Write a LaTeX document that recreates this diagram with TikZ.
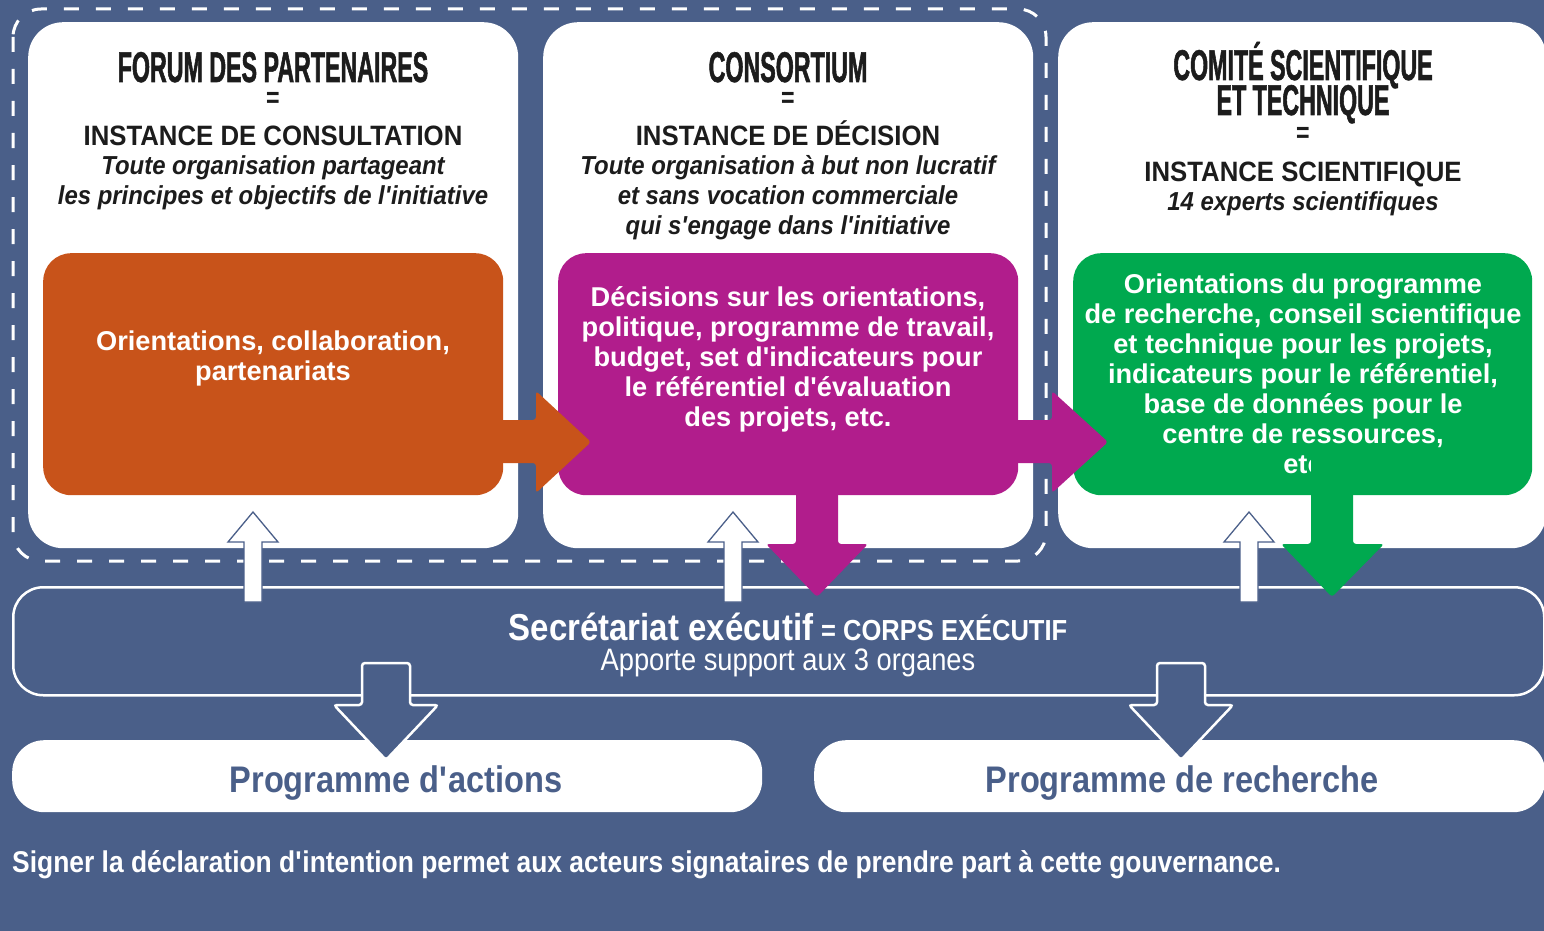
\documentclass[tikz,border=0pt]{standalone}
\usepackage{fontspec}
\setmainfont{Liberation Sans}
\newfontfamily\ftitle{Liberation Sans}[FakeStretch=0.54, FakeBold=1.2]
\newfontfamily\feq{Liberation Sans}[FakeStretch=0.8]
\newfontfamily\finst{Liberation Sans}[FakeStretch=0.92]
\newfontfamily\fnarrow{Liberation Sans}[FakeStretch=0.88]
\newcommand\ap{\textquotesingle}
\definecolor{bgblue}{HTML}{4A5F89}
\definecolor{orangeC}{HTML}{C8531A}
\definecolor{magC}{HTML}{B11D8C}
\definecolor{greenC}{HTML}{00A94F}
\definecolor{inkC}{HTML}{1C1C1C}
\begin{document}
\begin{tikzpicture}[x=1pt,y=-1pt,
  panel/.style={fill=white, rounded corners=35pt, inner sep=0pt, anchor=north west, minimum width=490pt, minimum height=526pt},
  colbox/.style={rounded corners=28pt, inner sep=0pt, anchor=north west, minimum width=460pt, minimum height=242pt},
  ttl/.style={font=\ftitle\bfseries\fontsize{43}{43}\selectfont, text=inkC, inner sep=0pt, anchor=base},
  eqs/.style={font=\feq\bfseries\fontsize{29}{29}\selectfont, text=inkC, inner sep=0pt},
  inst/.style={font=\finst\bfseries\fontsize{28}{28}\selectfont, text=inkC, inner sep=0pt, anchor=base},
  desc/.style={font=\finst\bfseries\itshape\fontsize{26}{30}\selectfont, text=inkC, inner sep=0pt, anchor=base},
  boxtxt/.style={font=\bfseries\fontsize{27.2}{30}\selectfont, text=white, align=center, inner sep=0pt},
  outbox/.style={draw=white, line width=2.5pt, rounded corners=30pt},
  progbox/.style={fill=white, rounded corners=32pt, inner sep=0pt, anchor=north west, minimum height=72pt},
  progtxt/.style={font=\fnarrow\bfseries\fontsize{37}{37}\selectfont, text=bgblue, inner sep=0pt, anchor=base},
  uparr/.style={fill=white, draw=bgblue, line width=1.3pt},
  downarr/.style={fill=bgblue, draw=white, line width=2.5pt, rounded corners=3pt}
]
\useasboundingbox (0,0) rectangle (1544,931);
\fill[bgblue] (0,0) rectangle (1544,931);

% secretariat and programme boxes
\node[outbox, anchor=north west, minimum width=1531pt, minimum height=108pt, inner sep=0pt] (sec) at (12,586) {};
\node[progbox, minimum width=750pt] (pa) at (12,740) {};
\node[progbox, minimum width=731pt] (pr) at (814,740) {};

% dashed frame
\draw[white, line width=3pt, dash pattern=on 15pt off 17pt, rounded corners=28pt] (13,9) rectangle (1046,561);

% panels
\node[panel] (p1) at (28,22) {};
\node[panel] (p2) at (543,22) {};
\node[panel, minimum width=488pt] (p3) at (1058,22) {};

% coloured boxes
\node[colbox, fill=orangeC] (ob) at (43,253) {};
\node[colbox, fill=magC] (mb) at (558,253) {};
\node[colbox, fill=greenC, minimum width=459pt] (gb) at (1073,253) {};

% panel 1 texts
\node[ttl] (t1) at (273,82) {FORUM DES PARTENAIRES};
\node[eqs] (e1) at (273,100) {=};
\node[inst] (i1) at (273,146) {INSTANCE DE CONSULTATION};
\node[desc] (d1a) at (273,174) {Toute organisation partageant};
\node[desc] (d1b) at (273,204) {les principes et objectifs de l\ap initiative};

% panel 2 texts
\node[ttl] (t2) at (788,82) {CONSORTIUM};
\node[eqs] (e2) at (788,100) {=};
\node[inst] (i2) at (788,146) {INSTANCE DE DÉCISION};
\node[desc] (d2a) at (788,174) {Toute organisation à but non lucratif};
\node[desc] (d2b) at (788,204) {et sans vocation commerciale};
\node[desc] (d2c) at (788,234) {qui s\ap engage dans l\ap initiative};

% panel 3 texts
\node[ttl] (t3a) at (1303,80) {COMITÉ SCIENTIFIQUE};
\node[ttl] (t3b) at (1303,115) {ET TECHNIQUE};
\node[eqs] (e3) at (1303,135) {=};
\node[inst] (i3) at (1303,181) {INSTANCE SCIENTIFIQUE};
\node[desc] (d3) at (1303,210) {14 experts scientifiques};

% box texts
\node[boxtxt] (ot) at (273,358) {Orientations, collaboration,\\partenariats};
\node[boxtxt] (mt) at (788,359) {Décisions sur les orientations,\\politique, programme de travail,\\budget, set d\ap indicateurs pour\\le référentiel d\ap évaluation\\des projets, etc.};
\node[boxtxt] (gt) at (1303,374) {Orientations du programme\\de recherche, conseil scientifique\\et technique pour les projets,\\indicateurs pour le référentiel,\\base de données pour le\\centre de ressources,\\etc};

% right arrows
\fill[orangeC, rounded corners=3pt] (ob.east |- 0,420) -- (536,420) -- (536,391) -- (591,442) -- (536,493) -- (536,463) -- (ob.east |- 0,463) -- ([xshift=-10pt]ob.east |- 0,463) -- ([xshift=-10pt]ob.east |- 0,420) -- cycle;
\fill[magC, rounded corners=3pt] (mb.east |- 0,420) -- (1052,420) -- (1052,391) -- (1108,442) -- (1052,493) -- (1052,463) -- (mb.east |- 0,463) -- ([xshift=-10pt]mb.east |- 0,463) -- ([xshift=-10pt]mb.east |- 0,420) -- cycle;

% down arrows
\fill[magC, rounded corners=3pt] (796,485) -- (796,544) -- (766,544) -- (817,597) -- (868,544) -- (838,544) -- (838,485) -- cycle;
\fill[greenC, rounded corners=3pt] (1311,445) -- (1311,544) -- (1281,544) -- (1332,597) -- (1384,544) -- (1353,544) -- (1353,445) -- cycle;

% white up arrows
\coordinate (u1) at (253,602);
\coordinate (u2) at (733,602);
\coordinate (u3) at (1249,602);
\foreach \c in {u1,u2,u3}{
  \filldraw[uparr] ([xshift=-9pt]\c) -- ++(0,-60) -- ++(-16,0) -- ++(25,-30) -- ++(25,30) -- ++(-16,0) -- ++(0,60) -- cycle;
}

% secretariat text
\node[inner sep=0pt, anchor=base, text=white] (st) at (788,640) {{\fnarrow\bfseries\fontsize{37.5}{37.5}\selectfont Secrétariat exécutif}\hspace{8pt}{\fnarrow\bfseries\fontsize{29}{29}\selectfont = CORPS EXÉCUTIF}};
\node[inner sep=0pt, anchor=base, text=white, font=\fnarrow\fontsize{31}{31}\selectfont] (ss) at (788,670) {Apporte support aux 3 organes};

% outline down arrows
\coordinate (v1) at (386,663);
\coordinate (v2) at (1181,663);
\foreach \c in {v1,v2}{
  \filldraw[downarr] ([xshift=-24pt]\c) -- ++(0,42) -- ++(-28,0) -- ++(52,55) -- ++(52,-55) -- ++(-28,0) -- ++(0,-42) -- cycle;
}

% programme texts
\node[progtxt] (pat) at (396,792) {Programme d\ap actions};
\node[progtxt] (prt) at (1182,792) {Programme de recherche};

% bottom note
\node[inner sep=0pt, anchor=base west, text=white, font=\fnarrow\bfseries\fontsize{30}{30}\selectfont] (note) at (12,872) {Signer la déclaration d\ap intention permet aux acteurs signataires de prendre part à cette gouvernance.};
\end{tikzpicture}
\end{document}
